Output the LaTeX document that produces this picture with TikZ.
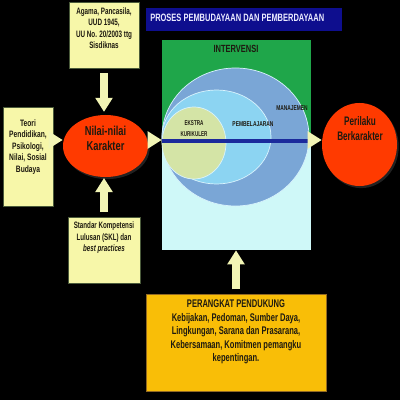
\documentclass[tikz,border=0pt]{standalone}
\usepackage{fontspec}
\usepackage{graphicx}
\setmainfont{Liberation Sans}
\usetikzlibrary{arrows.meta,shadows,shapes.geometric}
\newcommand\nar[2][0.68]{\scalebox{#1}[1]{\begin{tabular}{@{}c@{}}#2\end{tabular}}}
\definecolor{boxyellow}{HTML}{F7F7A9}
\definecolor{boxborder}{HTML}{4A5A3A}
\definecolor{arrowyellow}{HTML}{F2F5B5}
\definecolor{titleblue}{HTML}{0E0E8E}
\definecolor{intgreen}{HTML}{1FA64A}
\definecolor{lightcyan}{HTML}{CFF8F8}
\definecolor{manblue}{HTML}{7AA6D6}
\definecolor{pembblue}{HTML}{8CD4F2}
\definecolor{ekstragreen}{HTML}{D4E4A6}
\definecolor{lineblue}{HTML}{1B2A9C}
\definecolor{redfill}{HTML}{FF3A00}
\definecolor{orangefill}{HTML}{F9BE07}
\definecolor{darktext}{HTML}{1E1A10}
\begin{document}
\begin{tikzpicture}[x=0.025cm,y=-0.025cm,
  box/.style={draw=boxborder, line width=0.7pt, fill=boxyellow, inner sep=0pt},
  txt/.style={align=center, font=\bfseries\fontsize{6.6}{8.2}\selectfont, text=darktext, inner sep=0pt},
  barrow/.style={draw=arrowyellow, line width=5.8pt, -{Triangle[length=10pt,width=11.8pt]}},
  redell/.style={ellipse, fill=redfill, inner sep=0pt, drop shadow={shadow xshift=1.2pt, shadow yshift=-1.5pt, fill=black!70!gray, opacity=0.9}},
  ell/.style={ellipse, draw=white!85!cyan, line width=0.5pt, inner sep=0pt}
]
% background
\fill[black] (0,0) rectangle (400,400);

% title
\node[fill=titleblue, minimum width=196*0.025cm, minimum height=23*0.025cm, inner sep=0pt] (title) at (244,19.5) {};
\node[txt, text=white!92!blue, font=\bfseries\fontsize{7.6}{9}\selectfont, anchor=west] (titletext) at (150,19) {\nar[0.70]{PROSES PEMBUDAYAAN DAN PEMBERDAYAAN}};

% top box
\node[box, minimum width=70*0.025cm, minimum height=66*0.025cm] (agama) at (104,35) {};
\node[txt] (agamatext) at (104,29) {\nar{Agama, Pancasila,\\UUD 1945,\\UU No. 20/2003 ttg\\Sisdiknas}};

% left box
\node[box, minimum width=50*0.025cm, minimum height=99*0.025cm] (teori) at (28,156.5) {};
\node[txt] (teoritext) at (28,147) {\nar[0.72]{Teori\\Pendidikan,\\Psikologi,\\Nilai, Sosial\\Budaya}};

% bottom-left box
\node[box, minimum width=72*0.025cm, minimum height=66*0.025cm] (standar) at (104,250) {};
\node[txt] (standartext) at (104,238) {\nar[0.67]{Standar Kompetensi\\Lulusan (SKL) dan\\\textit{best practices}}};

% Nilai-nilai Karakter
\node[redell, minimum width=85*0.025cm, minimum height=62*0.025cm] (nilai) at (105.5,146) {};
\node[txt, font=\bfseries\fontsize{9.2}{10.8}\selectfont] (nilaitext) at (105.5,140) {\nar[0.72]{Nilai-nilai\\Karakter}};

% Intervensi box
\node[fill=lightcyan, minimum width=149*0.025cm, minimum height=210*0.025cm, inner sep=0pt] (interv) at (236.5,145) {};
\fill[intgreen] (162,40) rectangle (311,141);
\node[ell, fill=manblue, minimum width=147*0.025cm, minimum height=138*0.025cm] (manaj) at (235.5,137) {};
\node[ell, fill=pembblue, minimum width=109*0.025cm, minimum height=94*0.025cm] (pemb) at (216.5,137) {};
\node[ell, fill=ekstragreen, minimum width=64*0.025cm, minimum height=72*0.025cm] (ekstra) at (194,143) {};
\draw[lineblue, line width=2.2pt] (interv.west |- 0,141) -- (interv.east |- 0,141);
\node[txt, font=\bfseries\fontsize{7.4}{9}\selectfont] (intervtext) at (236,50) {\nar[0.72]{INTERVENSI}};
\node[txt, font=\bfseries\fontsize{5}{6}\selectfont] (manajtext) at (292,109) {\nar[0.69]{MANAJEMEN}};
\node[txt, font=\bfseries\fontsize{5}{6}\selectfont] (pembtext) at (253,125) {\nar[0.70]{PEMBELAJARAN}};
\node[txt, font=\bfseries\fontsize{5}{8}\selectfont] (ekstratext) at (194,129) {\nar[0.65]{EKSTRA\\KURIKULER}};

% Perilaku Berkarakter
\node[redell, minimum width=75*0.025cm, minimum height=83*0.025cm] (perilaku) at (359.5,144.5) {};
\node[txt, font=\bfseries\fontsize{8.8}{10.2}\selectfont] (perilakutext) at (360,130) {\nar[0.66]{Perilaku\\Berkarakter}};

% Perangkat pendukung
\node[fill=orangefill, draw=boxborder!60!orange, line width=0.5pt, minimum width=180*0.025cm, minimum height=97*0.025cm, inner sep=0pt] (perangkat) at (236,342.5) {};
\node[txt, font=\bfseries\fontsize{7.9}{9.6}\selectfont] (perangkattext) at (236,332) {\nar[0.68]{PERANGKAT PENDUKUNG\\Kebijakan, Pedoman, Sumber Daya,\\Lingkungan, Sarana dan Prasarana,\\Kebersamaan, Komitmen pemangku\\kepentingan.}};

% arrows
\coordinate (ay) at (0,140);
\draw[barrow, shorten <=3.5pt, shorten >=2pt] (agama.south) -- (agama.south |- nilai.north);
\draw[barrow, shorten >=0.5pt] (standar.north |- 0,212) -- (standar.north |- nilai.south);
\draw[barrow] (teori.east |- ay) -- (nilai.west |- ay);
\draw[barrow, shorten <=0.5pt] (nilai.east |- ay) -- (interv.west |- ay);
\draw[barrow, shorten >=0pt] (interv.east |- ay) -- (perilaku.west |- ay);
\draw[barrow, shorten <=3pt] (perangkat.north) -- (interv.south -| perangkat.north);
\end{tikzpicture}
\end{document}
